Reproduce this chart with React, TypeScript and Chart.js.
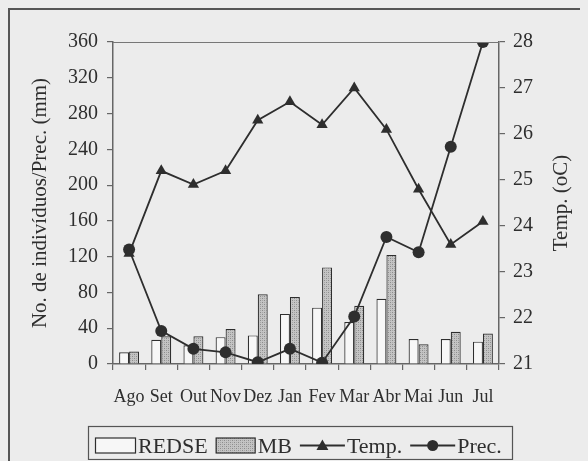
import React, { useEffect, useRef } from "react";
import { Chart, registerables } from "chart.js";

Chart.register(...registerables);

const months = ["Ago", "Set", "Out", "Nov", "Dez", "Jan", "Fev", "Mar", "Abr", "Mai", "Jun", "Jul"];
const redse = [13, 27, 21, 30, 32, 56, 63, 47, 73, 28, 28, 25];
const mb = [14, 31, 31, 39, 78, 75, 108, 65, 122, 22, 36, 34];
const temp = [23.4, 25.2, 24.9, 25.2, 26.3, 26.7, 26.2, 27.0, 26.1, 24.8, 23.6, 24.1];
const prec = [128, 37, 17, 13, 2, 17, 1.5, 53, 142, 125, 243, 360];

const FONT = "'Liberation Serif', 'Times New Roman', serif";
const INK = "#2e2e2e";
const BG = "#ececec";
const RIGHT_TITLE = "Temp. (oC)";

function makePattern(): CanvasPattern | string {
  const c = document.createElement("canvas");
  c.width = 4;
  c.height = 4;
  const g = c.getContext("2d");
  if (!g) return "#b0b0b0";
  g.fillStyle = "#c4c4c4";
  g.fillRect(0, 0, 4, 4);
  g.fillStyle = "#8c8c8c";
  g.fillRect(0, 0, 1, 1);
  g.fillRect(2, 2, 1, 1);
  g.fillStyle = "#a6a6a6";
  g.fillRect(2, 0, 1, 1);
  g.fillRect(0, 2, 1, 1);
  const p = g.createPattern(c, "repeat");
  return p || "#b0b0b0";
}

const framePlugin = {
  id: "frameAndLegend",
  afterDraw(chart: any) {
    const ctx = chart.ctx as CanvasRenderingContext2D;
    const { left, right, top, bottom } = chart.chartArea;
    ctx.save();
    // top frame line
    ctx.strokeStyle = "#777";
    ctx.lineWidth = 1.2;
    ctx.beginPath();
    ctx.moveTo(left, top + 0.5);
    ctx.lineTo(right, top + 0.5);
    ctx.stroke();

    // right axis title, reading bottom to top
    ctx.save();
    ctx.translate(551, (top + bottom) / 2);
    ctx.rotate(-Math.PI / 2);
    ctx.font = `21px ${FONT}`;
    ctx.fillStyle = INK;
    ctx.textAlign = "center";
    ctx.textBaseline = "middle";
    ctx.fillText(RIGHT_TITLE, 0, 0);
    ctx.restore();

    // legend
    const bx0 = 78, bx1 = 502, by0 = 416, by1 = 449;
    ctx.strokeStyle = "#555";
    ctx.lineWidth = 1.2;
    ctx.strokeRect(bx0 + 0.5, by0 + 0.5, bx1 - bx0, by1 - by0);
    ctx.font = `22px ${FONT}`;
    ctx.textBaseline = "alphabetic";
    ctx.textAlign = "left";
    ctx.fillStyle = INK;
    const cy = 435.5;
    const baseline = 443;
    let x = 85;
    const ds = chart.data.datasets;
    ds.forEach((d: any, i: number) => {
      if (d.type === "bar") {
        const w = i === 0 ? 40 : 39;
        ctx.fillStyle = d.backgroundColor;
        ctx.fillRect(x, cy - 7.5, w, 15);
        ctx.strokeStyle = INK;
        ctx.lineWidth = 1.2;
        ctx.strokeRect(x + 0.5, cy - 7.5, w, 15);
        x += w + 3;
      } else {
        const w = 45;
        ctx.strokeStyle = INK;
        ctx.lineWidth = 1.8;
        ctx.beginPath();
        ctx.moveTo(x, cy);
        ctx.lineTo(x + w, cy);
        ctx.stroke();
        ctx.fillStyle = INK;
        const mx = x + w / 2;
        ctx.beginPath();
        if (d.pointStyle === "triangle") {
          ctx.moveTo(mx, cy - 6);
          ctx.lineTo(mx + 6, cy + 4.5);
          ctx.lineTo(mx - 6, cy + 4.5);
          ctx.closePath();
        } else {
          ctx.arc(mx, cy, 5.5, 0, Math.PI * 2);
        }
        ctx.fill();
        x += w + 2;
      }
      ctx.fillStyle = INK;
      ctx.fillText(d.label, x, baseline);
      x += ctx.measureText(d.label).width + 8;
    });
    ctx.restore();
  },
};

export default function App() {
  const ref = useRef<HTMLCanvasElement | null>(null);

  useEffect(() => {
    document.body.style.background = BG;
    const canvas = ref.current;
    if (!canvas) return;
    const pattern = makePattern();
    const axisBorder = { color: "#666", width: 1.5 };
    const chart = new Chart(canvas, {
      type: "bar",
      data: {
        labels: months,
        datasets: [
          {
            type: "bar",
            label: "REDSE",
            data: redse,
            backgroundColor: "#f7f7f7",
            borderColor: INK,
            borderWidth: 1.2,
            yAxisID: "y",
            order: 3,
            barPercentage: 1.0,
            categoryPercentage: 0.62,
          },
          {
            type: "bar",
            label: "MB",
            data: mb,
            backgroundColor: pattern as any,
            borderColor: INK,
            borderWidth: 1.2,
            yAxisID: "y",
            order: 3,
            barPercentage: 1.0,
            categoryPercentage: 0.62,
          },
          {
            type: "line",
            label: "Temp.",
            data: temp,
            yAxisID: "y1",
            borderColor: INK,
            backgroundColor: INK,
            borderWidth: 1.8,
            pointStyle: "triangle",
            pointRadius: 6.5,
            pointBorderWidth: 0,
            tension: 0,
            order: 1,
          },
          {
            type: "line",
            label: "Prec.",
            data: prec,
            yAxisID: "y",
            borderColor: INK,
            backgroundColor: INK,
            borderWidth: 1.8,
            pointStyle: "circle",
            pointRadius: 6,
            pointBorderWidth: 0,
            tension: 0,
            order: 2,
          },
        ] as any,
      },
      options: {
        responsive: false,
        animation: false,
        layout: { padding: { top: 32, bottom: 46, left: 0, right: 0 } },
        plugins: {
          legend: { display: false },
          tooltip: { enabled: false },
        },
        scales: {
          x: {
            type: "category",
            offset: true,
            grid: { offset: true, drawOnChartArea: false, tickLength: 6, color: "#666", lineWidth: 1.2 },
            border: axisBorder,
            ticks: {
              autoSkip: false,
              maxRotation: 0,
              minRotation: 0,
              padding: 16,
              color: INK,
              font: { family: FONT, size: 18 },
            },
            afterFit: (s: any) => {
              s.height = 50;
            },
          },
          y: {
            type: "linear",
            position: "left",
            min: 0,
            max: 360,
            grid: { drawOnChartArea: false, tickLength: 6, color: "#666", lineWidth: 1.2 },
            border: axisBorder,
            ticks: {
              stepSize: 20,
              padding: 9,
              color: INK,
              font: { family: FONT, size: 20 },
              callback: (v: any) => (Number(v) % 40 === 0 ? String(v) : ""),
            },
            title: {
              display: true,
              text: "No. de indivíduos/Prec. (mm)",
              color: INK,
              font: { family: FONT, size: 21 },
              padding: { top: 18, bottom: 0 },
            },
            afterFit: (s: any) => {
              s.width = 103;
            },
          },
          y1: {
            type: "linear",
            position: "right",
            min: 21,
            max: 28,
            grid: { drawOnChartArea: false, tickLength: 6, color: "#666", lineWidth: 1.2 },
            border: axisBorder,
            ticks: {
              stepSize: 0.5,
              padding: 8,
              color: INK,
              font: { family: FONT, size: 20 },
              callback: (v: any) => (Number.isInteger(Number(v)) ? String(v) : ""),
            },
            title: { display: false },
            afterFit: (s: any) => {
              s.width = 81;
            },
          },
        },
      } as any,
      plugins: [framePlugin],
    });
    return () => chart.destroy();
  }, []);

  return (
    <div
      style={{
        width: 590,
        height: 452,
        borderTop: "2px solid #555",
        borderLeft: "2px solid #555",
        background: BG,
        overflow: "hidden",
      }}
    >
      <canvas ref={ref} width={570} height={450} style={{ display: "block" }} />
    </div>
  );
}
